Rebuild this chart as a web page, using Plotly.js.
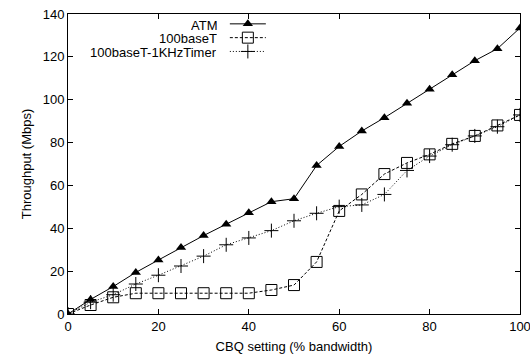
<!DOCTYPE html>
<html>
<head>
<meta charset="utf-8">
<script src="https://cdn.plot.ly/plotly-3.0.1.min.js"></script>
<style>html,body{margin:0;padding:0;background:#fff;}#chart{width:530px;height:360px;}</style>
</head>
<body>
<div id="chart"></div>
<script>
const cbq = [0,5,10,15,20,25,30,35,40,45,50,55,60,65,70,75,80,85,90,95,100];
const atm = [0,6.8,12.8,19.4,25.2,31,36.6,41.9,47.2,52.4,53.8,69.3,78.2,85.4,91.6,98.3,104.9,111.7,118.2,123.8,133.5];
const base100 = [0,4.2,7.8,9.7,9.7,9.7,9.7,9.7,9.7,11.2,13.5,24.3,48.1,55.8,65.3,70.5,74.5,79.4,83.1,88,92.9];
const timer1k = [0,5.5,9,14,18.1,22.4,27,32.3,35.5,38.9,43.5,47,50.1,50.9,55.8,67,73.7,79,83.1,87.4,92.9];
const names = ["ATM","100baseT","100baseT-1KHzTimer"];
const xTicks = [0,20,40,60,80,100];
const yTicks = [0,20,40,60,80,100,120,140];

const font = "Liberation Sans, Arial, Helvetica, sans-serif";
const traces = [
  {x: cbq, y: atm, name: "", legend: "legend", mode: "lines+markers",
   line: {color: "#000", width: 1}, marker: {symbol: "triangle-up", size: 9, color: "#000"}},
  {x: cbq, y: base100, name: "", legend: "legend2", mode: "lines+markers",
   line: {color: "#000", width: 1, dash: "3px,2px"},
   marker: {symbol: "square-open", size: 11, color: "#000", line: {width: 1}}},
  {x: cbq, y: timer1k, name: "", legend: "legend3", mode: "lines+markers",
   line: {color: "#000", width: 1, dash: "1px,2px"},
   marker: {symbol: "cross-thin-open", size: 10, color: "#000", line: {width: 1, color: "#000"}}}
];
const ax = {showline: true, mirror: "ticks", linecolor: "#000", linewidth: 1,
  ticks: "inside", ticklen: 5, tickcolor: "#000", showgrid: false, zeroline: false,
  ticklabeloverflow: "allow",
  tickfont: {family: font, size: 13, color: "#000"}};
const legBase = {bgcolor: "rgba(0,0,0,0)", borderwidth: 0, xanchor: "left", yanchor: "middle",
  font: {family: font, size: 13}, itemwidth: 36};
const layout = {
  width: 530, height: 360,
  margin: {l: 68, r: 10, t: 9, b: 46},
  paper_bgcolor: "#fff", plot_bgcolor: "#fff",
  font: {family: font, size: 13, color: "#000"},
  xaxis: Object.assign({}, ax, {range: [0,100], tickvals: xTicks,
    title: {text: "CBQ setting (% bandwidth)", font: {family: font, size: 13}, standoff: 9}}),
  yaxis: Object.assign({}, ax, {range: [0,140], tickvals: yTicks,
    title: {text: "Throughput (Mbps)", font: {family: font, size: 13}, standoff: 8}}),
  showlegend: true,
  legend: Object.assign({}, legBase, {x: 0.347, y: 0.967}),
  legend2: Object.assign({}, legBase, {x: 0.347, y: 0.921}),
  legend3: Object.assign({}, legBase, {x: 0.347, y: 0.875}),
  annotations: names.map((n, i) => ({text: n, xref: "paper", yref: "paper",
    x: 0.3319, y: [0.964, 0.920, 0.874][i], xanchor: "right", yanchor: "middle",
    height: 12, valign: "middle", borderpad: 0,
    showarrow: false, font: {family: font, size: 13, color: "#000"}}))
};
Plotly.newPlot("chart", traces, layout, {displayModeBar: false, staticPlot: true});
</script>
</body>
</html>
